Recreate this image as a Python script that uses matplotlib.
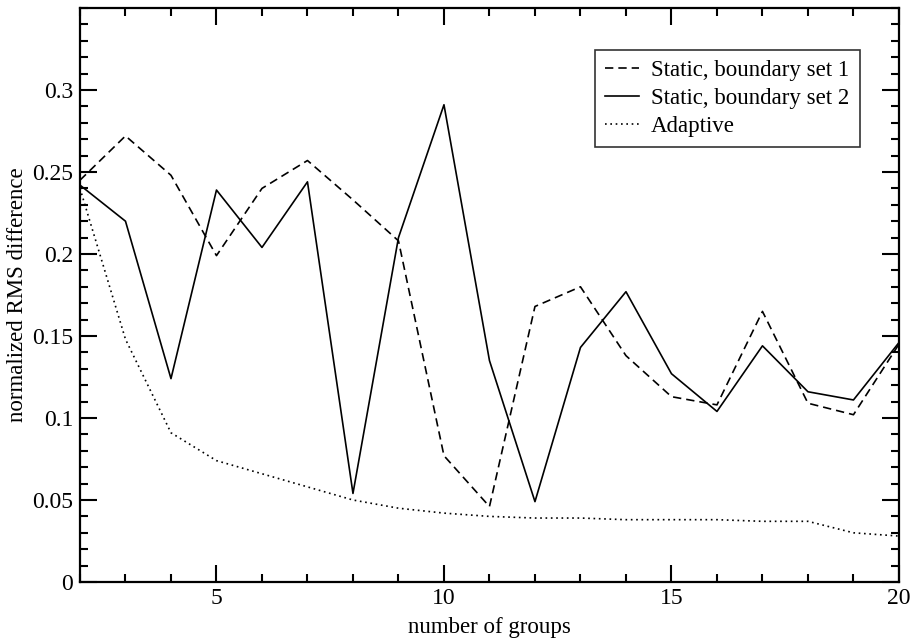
import numpy as np
import matplotlib.pyplot as plt
from matplotlib.ticker import MultipleLocator

groups = np.arange(2, 21)

static_set1 = [0.245, 0.272, 0.248, 0.199, 0.240, 0.257, 0.233, 0.208, 0.077,
               0.046, 0.168, 0.180, 0.138, 0.113, 0.108, 0.165, 0.109, 0.102, 0.145]
static_set2 = [0.242, 0.220, 0.124, 0.239, 0.204, 0.244, 0.054, 0.210, 0.291,
               0.135, 0.049, 0.143, 0.177, 0.127, 0.104, 0.144, 0.116, 0.111, 0.146]
adaptive = [0.240, 0.148, 0.091, 0.074, 0.066, 0.058, 0.050, 0.045, 0.042,
            0.040, 0.039, 0.039, 0.038, 0.038, 0.038, 0.037, 0.037, 0.030, 0.028]

plt.rcParams['font.family'] = 'Liberation Serif'
plt.rcParams['font.size'] = 16.5

fig = plt.figure(figsize=(9.12, 6.39), dpi=100)
ax = fig.add_axes([0.0877, 0.0892, 0.898, 0.8983])

ax.plot(groups, static_set1, color='black', lw=1.2, dashes=(5, 3),
        label='Static, boundary set 1')
ax.plot(groups, static_set2, color='black', lw=1.2, label='Static, boundary set 2')
ax.plot(groups, adaptive, color='black', lw=1.2, dashes=(1, 2.2), label='Adaptive')

ax.set_xlim(2, 20)
ax.set_ylim(0, 0.35)
ax.xaxis.set_major_locator(MultipleLocator(5))
ax.xaxis.set_minor_locator(MultipleLocator(1))
ax.yaxis.set_major_locator(MultipleLocator(0.05))
ax.yaxis.set_minor_locator(MultipleLocator(0.01))
ax.set_yticks([0, 0.05, 0.1, 0.15, 0.2, 0.25, 0.3])
ax.set_yticklabels(['0', '0.05', '0.1', '0.15', '0.2', '0.25', '0.3'])
ax.set_xticks([5, 10, 15, 20])
ax.tick_params(which='both', direction='in', top=True, right=True, width=1.5)
ax.tick_params(which='major', length=12, labelsize=17, pad=5)
ax.tick_params(axis='x', which='major', pad=4)
ax.tick_params(which='minor', length=6)
for s in ax.spines.values():
    s.set_linewidth(1.6)

ax.set_xlabel('number of groups', fontsize=16.5)
ax.xaxis.set_label_coords(0.5, -0.061)
ax.set_ylabel('normalized RMS difference', fontsize=16.5, labelpad=3)

leg = ax.legend(loc='upper left', bbox_to_anchor=(0.629, 0.927), fancybox=False,
                frameon=True, edgecolor='black', fontsize=16.5, handlelength=1.45,
                borderpad=0.45, labelspacing=0.3, handletextpad=0.55,
                borderaxespad=0)
leg.get_frame().set_linewidth(1.2)

fig.savefig('out.png', dpi=100)
